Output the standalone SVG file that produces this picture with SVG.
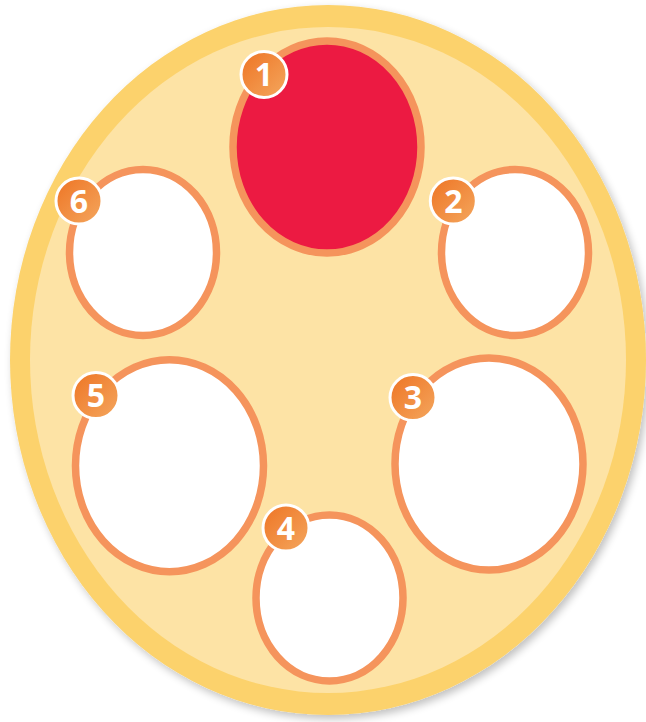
<svg xmlns="http://www.w3.org/2000/svg" width="646" height="722" viewBox="0 0 646 722">
<defs>
<linearGradient id="bg" x1="0" y1="0" x2="1" y2="1">
<stop offset="0" stop-color="#EE7424"/>
<stop offset="1" stop-color="#F4A75E"/>
</linearGradient>
<filter id="sh" x="-10%" y="-10%" width="120%" height="120%">
<feGaussianBlur in="SourceAlpha" stdDeviation="4"/>
<feOffset dx="3" dy="4"/>
<feComponentTransfer><feFuncA type="linear" slope="0.25"/></feComponentTransfer>
<feMerge><feMergeNode/><feMergeNode in="SourceGraphic"/></feMerge>
</filter>
<style>
.ring{stroke:#F5945C;stroke-width:7.5;fill:#FFFFFF}
.red{fill:#EC1A42}
.badge{fill:url(#bg);stroke:#FFFFFF;stroke-width:3}
.num{font-family:"Open Sans","DejaVu Sans",sans-serif;font-weight:bold;font-size:32px;fill:#FFFFFF;text-anchor:middle}
</style>
</defs>
<rect width="646" height="722" fill="#FFFFFF"/>
<g id="plate" filter="url(#sh)">
<ellipse cx="328" cy="360" rx="318" ry="355" fill="#FCD26C"/>
<ellipse cx="328" cy="360" rx="298" ry="333" fill="#FDE3A5"/>
</g>
<g id="connectors"/>
<g id="node1">
<ellipse class="ring red" cx="327" cy="147" rx="94" ry="106"/>
<circle class="badge" cx="264" cy="74.5" r="23"/>
<text class="num" x="264" y="86">1</text>
</g>
<g id="node2">
<ellipse class="ring" cx="515" cy="252.5" rx="73.5" ry="83"/>
<circle class="badge" cx="453.3" cy="201" r="23"/>
<text class="num" x="453.3" y="212.5">2</text>
</g>
<g id="node3">
<ellipse class="ring" cx="489" cy="464" rx="94" ry="106"/>
<circle class="badge" cx="413" cy="397.5" r="23"/>
<text class="num" x="413" y="409">3</text>
</g>
<g id="node4">
<ellipse class="ring" cx="329.5" cy="598" rx="73.5" ry="83"/>
<circle class="badge" cx="286" cy="528" r="23"/>
<text class="num" x="286" y="539.5">4</text>
</g>
<g id="node5">
<ellipse class="ring" cx="169.5" cy="465.7" rx="94" ry="106"/>
<circle class="badge" cx="96" cy="395.5" r="23"/>
<text class="num" x="96" y="407">5</text>
</g>
<g id="node6">
<ellipse class="ring" cx="143" cy="252.5" rx="73.5" ry="83"/>
<circle class="badge" cx="79" cy="201" r="23"/>
<text class="num" x="79" y="212.5">6</text>
</g>
</svg>
